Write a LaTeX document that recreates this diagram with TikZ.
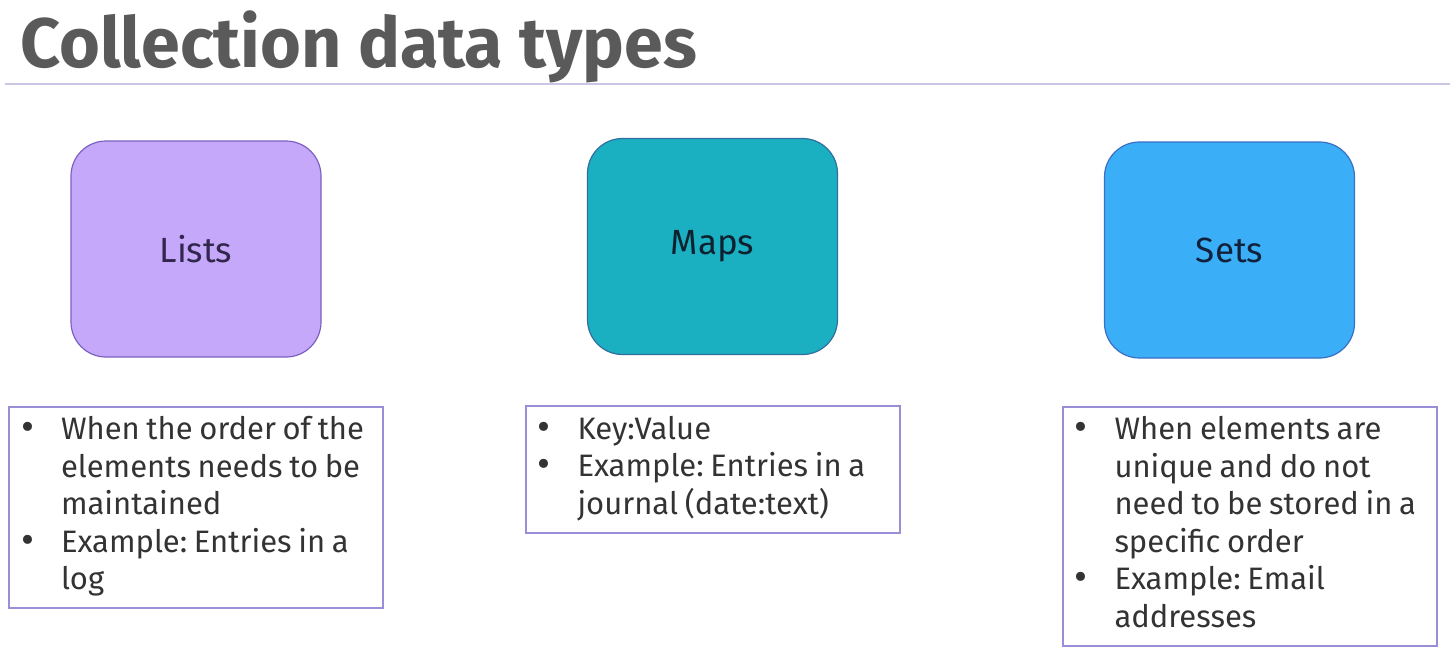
\documentclass[tikz,border=0pt]{standalone}
\usepackage{fontspec}
\setmainfont{Fira Sans}
\usepackage{tikz}
\usetikzlibrary{positioning}

\definecolor{titlegray}{HTML}{5A5A5A}
\definecolor{rulelav}{HTML}{CCC6E6}
\definecolor{listfill}{HTML}{C5A8FA}
\definecolor{listdraw}{HTML}{7B61C0}
\definecolor{mapfill}{HTML}{1BB0C1}
\definecolor{mapdraw}{HTML}{2F6E9E}
\definecolor{setfill}{HTML}{3AAEF7}
\definecolor{setdraw}{HTML}{3B6FC4}
\definecolor{notedraw}{HTML}{9A8FD6}
\definecolor{notetext}{HTML}{333333}

\frenchspacing
\newcommand{\bul}{{\fontsize{20}{0}\selectfont\raisebox{-0.5pt}{\textbullet}}}
\newcommand{\notelines}[1]{\fontsize{15.5}{18.75}\selectfont
  \begin{tabular}{@{\hspace{6pt}}p{20pt}@{}l@{}}#1\end{tabular}}

\begin{document}
\begin{tikzpicture}[
		x=0.5pt, y=-0.5pt,
		node distance=24pt, % Distance between boxes and notes
		typebox/.style={draw, line width=0.6pt, rounded corners=17.5pt, minimum width=125pt, minimum height=108pt, font=\fontsize{17.5}{21}\selectfont},
		notebox/.style={draw=notedraw, line width=1pt, text width=187pt, inner xsep=0pt, inner ysep=3.5pt, align=left, text=notetext}
	]
	\useasboundingbox (0,0) rectangle (1450,655);

	% Title and rule
	\node[anchor=base west, inner sep=0pt, text=titlegray, font=\fontsize{35}{40}\selectfont\bfseries] (title) at (20,67) {Collection data types};
	\draw[rulelav, line width=1pt] (5,84) -- (1450,84);

	% Type boxes
	\node[typebox, fill=listfill, draw=listdraw, text=listdraw!40!black] (lists) at (196,249) {Lists};
	\node[typebox, fill=mapfill, draw=mapdraw, text=mapdraw!30!black] (maps) at (712.5,246.5) {Maps};
	\node[typebox, fill=setfill, draw=setdraw, text=setdraw!30!black] (sets) at (1229.5,250) {Sets};

	% Notes below each box
	\node[notebox, below=24pt of lists] (listnote) {\notelines{%
		\bul & When the order of the\\
		& elements needs to be\\
		& maintained\\
		\bul & Example: Entries in a\\
		& log}};
	\node[notebox, below=25pt of maps] (mapnote) {\notelines{%
		\bul & Key:Value\\
		\bul & Example: Entries in a\\
		& journal (date:text)}};
	\node[notebox, below=23.5pt of sets, xshift=10pt] (setnote) {\notelines{%
		\bul & When elements are\\
		& unique and do not\\
		& need to be stored in a\\
		& specific order\\
		\bul & Example: Email\\
		& addresses}};

\end{tikzpicture}
\end{document}
